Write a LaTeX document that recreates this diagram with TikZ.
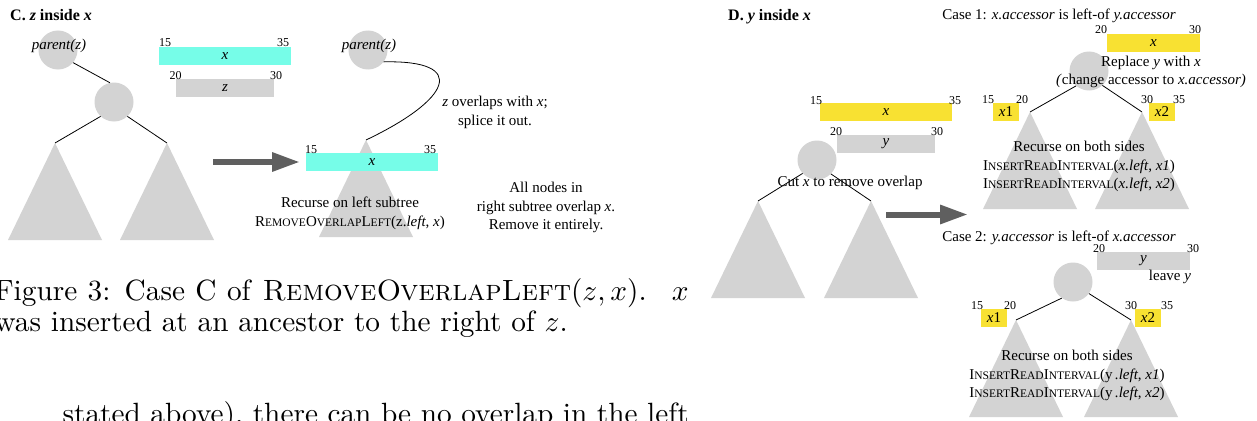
\documentclass[tikz,border=0pt]{standalone}
\usepackage{fontspec}
\newfontfamily\tms{Liberation Serif}
\usetikzlibrary{arrows.meta}
\definecolor{treegray}{RGB}{211,211,211}
\definecolor{cyanbox}{RGB}{118,253,232}
\definecolor{yelbox}{RGB}{248,225,50}
\definecolor{arrowgray}{RGB}{95,95,95}
\newcommand\lc[1]{{\fontsize{11.5}{11.5}\selectfont #1}}
\newcommand\subtree[1]{\fill[treegray] (#1) -- ++(-47,97) -- ++(94,0) -- cycle;}
\begin{document}
\begin{tikzpicture}[x=1pt,y=-1pt,
  nd/.style={circle, fill=treegray, minimum size=39pt, inner sep=0pt},
  ivl/.style={minimum height=18pt, inner sep=0pt, font=\tms\fontsize{15}{18}\selectfont\itshape},
  num/.style={font=\tms\fontsize{12}{12}\selectfont, inner sep=0pt, anchor=base},
  lbl/.style={font=\tms\fontsize{15}{18.5}\selectfont, align=center, inner sep=0pt},
  lblit/.style={font=\tms\fontsize{15}{18}\selectfont\itshape, inner sep=0pt},
  ttl/.style={font=\tms\fontsize{16}{18}\selectfont\bfseries, inner sep=0pt, anchor=base west},
  captxt/.style={font=\fontsize{10}{12}\selectfont, inner sep=0pt, anchor=base west, scale=2.93, transform shape},
  edge/.style={draw=black, line width=0.8pt},
  bigarrow/.style={line width=6pt, draw=arrowgray, -{Triangle[length=28pt,width=18pt]}}]
\path[fill=white, use as bounding box] (0,0) rectangle (1257,420);

% ================= Panel C =================
\node[ttl] (ctitle) at (10,21) {C. \textit{z} inside \textit{x}};
\coordinate (ctl) at (55,143);
\coordinate (ctr) at (167,143);
\subtree{ctl}
\subtree{ctr}
\node[nd] (cpz) at (58,50) {};
\node[nd] (ccz) at (114,102) {};
\draw[edge] (cpz.-40) -- (ccz.102);
\draw[edge] (ccz.227) -- (ctl);
\draw[edge] (ccz.313) -- (ctr);
\node[lblit] (cpzl) at (59,46) {parent(z)};

\node[ivl, fill=cyanbox, minimum width=132pt] (cbx) at (225,56) {x};
\node[num] (cbx15) at (165,47) {15};
\node[num] (cbx35) at (283,47) {35};
\node[ivl, fill=treegray, minimum width=98pt] (cbz) at (225,88) {z};
\node[num] (cbz20) at (175.5,79) {20};
\node[num] (cbz30) at (276,79) {30};

\coordinate (ca1) at (213,162);
\coordinate (ca2) at (300,162);
\draw[bigarrow] (ca1) -- (ca2);

\coordinate (ctm) at (366,140);
\subtree{ctm}
\node[nd] (cpz2) at (368,50) {};
\draw[edge] (cpz2.-37) .. controls (470,60) and (450,100) .. (ctm);
\node[lblit] (cpz2l) at (369,46) {parent(z)};
\node[ivl, fill=cyanbox, minimum width=132pt] (cbx2) at (372,162) {x};
\node[num] (cbx2a) at (311,153) {15};
\node[num] (cbx2b) at (430,153) {35};

\node[lbl] (ct1) at (495,112.5) {\textit{z} overlaps with \textit{x};\\splice it out.};
\node[lbl] (ct2) at (350,213.5) {Recurse on left subtree\\R\lc{EMOVE}O\lc{VERLAP}L\lc{EFT}(z.\textit{left}, \textit{x})};
\node[lbl] (ct3) at (546,207.5) {All nodes in\\right subtree overlap \textit{x}.\\Remove it entirely.};

% caption and body text
\node[captxt] (cap1) at (-6,300) {\makebox[236.9pt][s]{Figure 3: Case C of \textsc{RemoveOverlapLeft}$(z,x)$. \ $x$}};
\node[captxt] (cap2) at (-6,331) {was inserted at an ancestor to the right of $z$.};
\node[captxt] (body1) at (62,423) {\makebox[213.7pt][s]{stated above), there can be no overlap in the left}};

% ================= Panel D =================
\node[ttl] (dtitle) at (728,21) {D. \textit{y} inside \textit{x}};

\coordinate (dtl) at (758,201);
\coordinate (dtr) at (871,201);
\subtree{dtl}
\subtree{dtr}
\node[nd] (dn) at (817,160) {};
\draw[edge] (dn.223) -- (dtl);
\draw[edge] (dn.-45) -- (dtr);
\node[ivl, fill=yelbox, minimum width=132pt] (dbx) at (886,112) {x};
\node[num] (dbx15) at (816,104) {15};
\node[num] (dbx35) at (955,104) {35};
\node[ivl, fill=treegray, minimum width=98pt] (dby) at (886,144) {y};
\node[num] (dby20) at (836,135) {20};
\node[num] (dby30) at (937,135) {30};
\node[lbl] (dcut) at (850,183) {Cut \textit{x} to remove overlap};

\coordinate (da1) at (886,214.5);
\coordinate (da2) at (968,214.5);
\draw[bigarrow] (da1) -- (da2);

% Case 1
\node[lbl, anchor=base] (dcase1) at (1059,20) {Case 1: \textit{x.accessor} is left-of \textit{y.accessor}};
\coordinate (d1tl) at (1030,112);
\coordinate (d1tr) at (1142,112);
\subtree{d1tl}
\subtree{d1tr}
\node[nd] (d1n) at (1089,71) {};
\draw[edge] (d1n.229) -- (d1tl);
\draw[edge] (d1n.313) -- (d1tr);
\node[ivl, fill=yelbox, minimum width=93pt] (d1x) at (1153.5,43) {x};
\node[num] (d1x20) at (1101,34) {20};
\node[num] (d1x30) at (1195,34) {30};
\node[lbl] (d1rep) at (1151,72) {Replace \textit{y} with \textit{x}\\\textit{(}change accessor to \textit{x.accessor)}};
\node[ivl, fill=yelbox, minimum width=26pt] (d1x1) at (1006,112) {x\upshape 1};
\node[num] (d1x1a) at (988,103) {15};
\node[num] (d1x1b) at (1022,103) {20};
\node[ivl, fill=yelbox, minimum width=26pt] (d1x2) at (1162,112) {x\upshape 2};
\node[num] (d1x2a) at (1147,103) {30};
\node[num] (d1x2b) at (1179,103) {35};
\node[lbl] (d1rec) at (1079,166.5) {Recurse on both sides\\I\lc{NSERT}R\lc{EAD}I\lc{NTERVAL}(\textit{x.left}, \textit{x1})\\I\lc{NSERT}R\lc{EAD}I\lc{NTERVAL}(\textit{x.left}, \textit{x2})};

% Case 2
\node[lbl, anchor=base] (dcase2) at (1059,241) {Case 2: \textit{y.accessor} is left-of \textit{x.accessor}};
\coordinate (d2tl) at (1016,320);
\coordinate (d2tr) at (1131,320);
\subtree{d2tl}
\subtree{d2tr}
\node[nd] (d2n) at (1073,282) {};
\draw[edge] (d2n.235) -- (d2tl);
\draw[edge] (d2n.-36) -- (d2tr);
\node[ivl, fill=treegray, minimum width=93pt] (d2y) at (1143.5,261) {y};
\node[num] (d2y20) at (1099,252) {20};
\node[num] (d2y30) at (1193,252) {30};
\node[lbl] (d2leave) at (1170,277) {leave \textit{y}};
\node[ivl, fill=yelbox, minimum width=26pt] (d2x1) at (994,318) {x\upshape 1};
\node[num] (d2x1a) at (977,309) {15};
\node[num] (d2x1b) at (1010,309) {20};
\node[ivl, fill=yelbox, minimum width=26pt] (d2x2) at (1148,318) {x\upshape 2};
\node[num] (d2x2a) at (1131,309) {30};
\node[num] (d2x2b) at (1167,309) {35};
\node[lbl] (d2rec) at (1067,375.5) {Recurse on both sides\\I\lc{NSERT}R\lc{EAD}I\lc{NTERVAL}(y\,\textit{.left}, \textit{x1})\\I\lc{NSERT}R\lc{EAD}I\lc{NTERVAL}(y\,\textit{.left}, \textit{x2})};
\end{tikzpicture}
\end{document}
